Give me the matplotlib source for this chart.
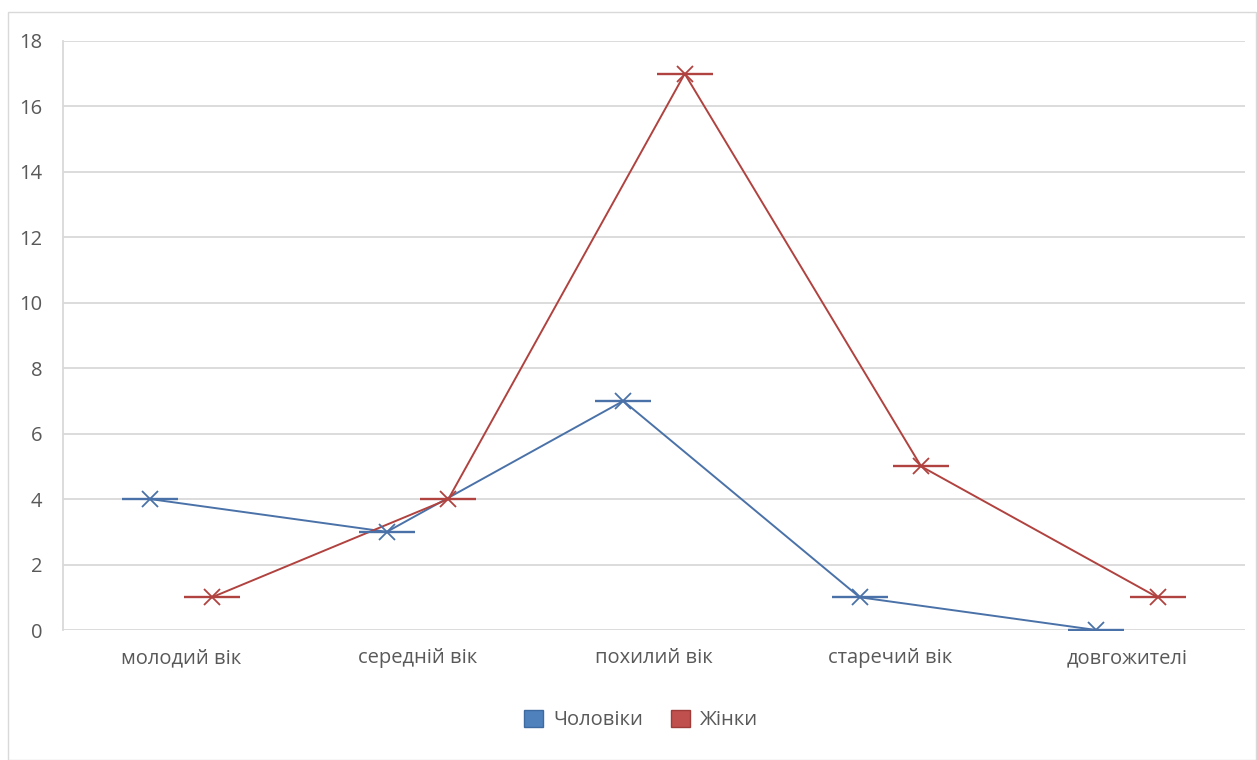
import matplotlib.pyplot as plt
import numpy as np
from matplotlib.patches import Rectangle

categories = ["молодий вік", "середній вік", "похилий вік", "старечий вік", "довгожителі"]
men = [4, 3, 7, 1, 0]
women = [1, 4, 17, 5, 1]
series_names = ["Чоловіки", "Жінки"]
y_ticks = [0, 2, 4, 6, 8, 10, 12, 14, 16, 18]

plt.rcParams['font.family'] = ['Open Sans', 'DejaVu Sans']

blue = "#4a72a8"
red = "#b0423f"
grey_text = "#595959"
grid = "#d9d9d9"

fig = plt.figure(figsize=(12.57, 7.6), dpi=100)
fig.patches.append(Rectangle((8 / 1257, 0), 1 - 9 / 1257, 1 - 12 / 760,
                             transform=fig.transFigure, fill=False,
                             edgecolor=grid, linewidth=1))

ax = fig.add_axes([63 / 1257, 1 - 630 / 760, (1245 - 63) / 1257, (630 - 41) / 760])

x = np.arange(len(categories))
off = 0.13
for vals, shift, color in [(men, -off, blue), (women, off, red)]:
    xs = x + shift
    ax.plot(xs, vals, color=color, linewidth=1.4, zorder=3)
    ax.plot(xs, vals, linestyle='none', marker='x', markersize=11,
            markeredgewidth=1.3, color=color, zorder=4)
    ax.plot(xs, vals, linestyle='none', marker='_', markersize=40,
            markeredgewidth=1.7, color=color, zorder=4)

ax.set_xlim(-0.5, len(categories) - 0.5)
ax.set_ylim(0, 18)
ax.set_yticks(y_ticks)
ax.set_xticks(x)
ax.set_xticklabels(categories)
ax.yaxis.grid(True, color=grid, linewidth=1.3)
ax.set_axisbelow(True)
ax.tick_params(axis='both', length=0, labelsize=14.5, labelcolor=grey_text)
ax.tick_params(axis='y', pad=15)
ax.tick_params(axis='x', pad=13)
for side in ['top', 'right', 'bottom']:
    ax.spines[side].set_visible(False)
ax.spines['left'].set_color(grid)
ax.spines['left'].set_linewidth(1.3)

handles = [Rectangle((0, 0), 1, 1, facecolor="#4f81bd", edgecolor="#3d6aa0"),
           Rectangle((0, 0), 1, 1, facecolor="#c0504d", edgecolor="#9e3c3a")]
fig.legend(handles, series_names, loc='center', bbox_to_anchor=(641 / 1257, 1 - 720 / 760),
           ncol=2, frameon=False, fontsize=14.5, labelcolor=grey_text,
           handlelength=0.95, handleheight=0.95, handletextpad=0.5, columnspacing=1.4)

fig.savefig("out.png", dpi=100)
